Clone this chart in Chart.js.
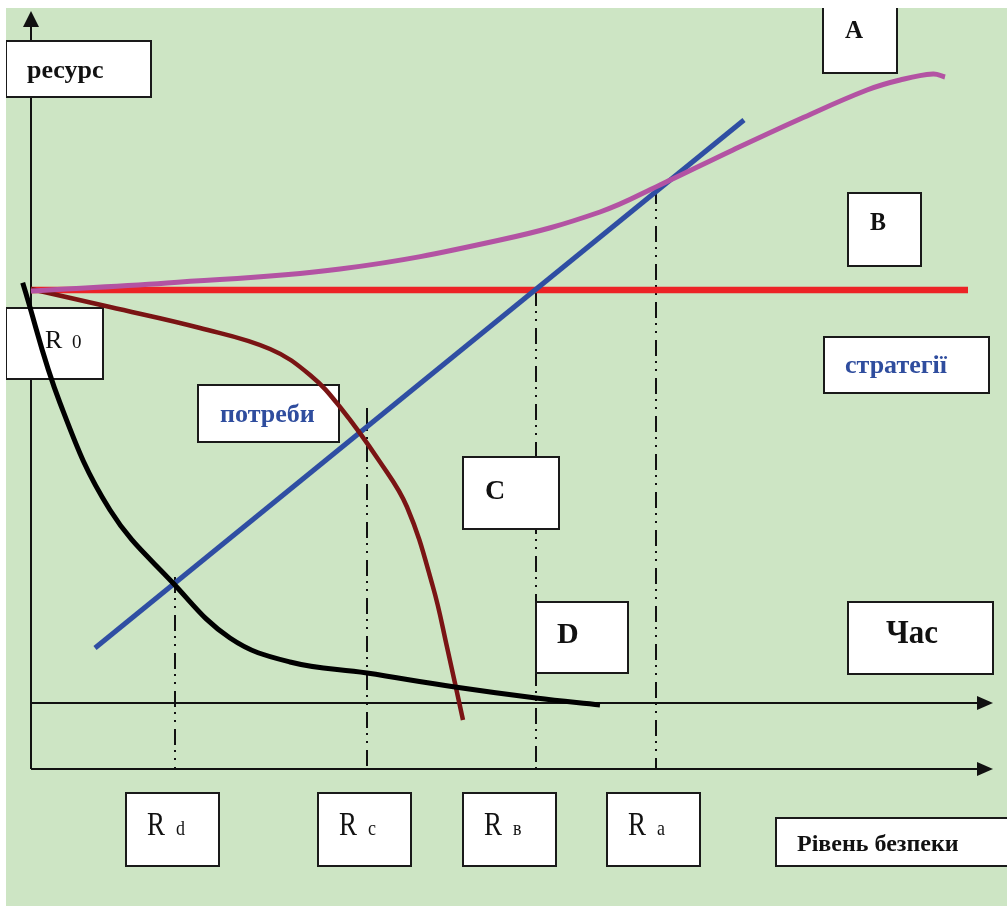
<!DOCTYPE html>
<html>
<head>
<meta charset="utf-8">
<script src="https://cdn.jsdelivr.net/npm/chart.js@4"></script>
<style>
  html, body { margin: 0; padding: 0; background: #ffffff; }
  canvas { display: block; }
</style>
</head>
<body>
<canvas id="chart" width="1007" height="906"></canvas>
<script>
// --- data (units: x = security level, y = resource; origin at the lower axis) ---
const blackX   = [-0.83, 2.9, 7.9, 14.2, 19.9, 25.9, 33.6, 42.4, 50.5, 56.9];
const blackY   = [48.63, 36.6, 25.9, 18.6, 13.1, 10.7, 9.6, 8.2, 7.1, 6.4];

const magentaX = [0, 13.6, 30.9, 46.9, 56.9, 62.9, 70.2, 76.9, 83.6, 86.9, 90.2, 91.4];
const magentaY = [47.8, 48.6, 50.0, 52.9, 55.7, 58.4, 61.9, 65.0, 67.9, 68.9, 69.5, 69.2];

const needsX   = [0, 7.9, 16.9, 23.9, 27.9, 30.9, 34.9, 37.6, 40.2, 41.6, 43.2];
const needsY   = [48.0, 46.2, 44.1, 42.0, 39.4, 36.2, 30.7, 26.2, 18.2, 12.2, 4.9];

const blueX    = [6.4, 71.3];
const blueY    = [12.1, 64.9];

const redX     = [0, 93.7];
const redY     = [47.9, 47.9];

// security levels where the dash-dot drop lines fall
const levelSubs = ['d', 'c', 'в', 'a'];
const levelX    = [14.4, 33.6, 50.5, 62.5];
const levelTop  = [19.2, 36.1, 47.9, 58.1];

const timeAxisY = 6.6;

function pts(xs, ys) {
  return xs.map((x, i) => ({ x: x, y: ys[i] }));
}

const SERIF = '"Liberation Serif", "DejaVu Serif", serif';
const BLUE_TXT = '#2f4d9e';

// boxes: [x1, y1, x2, y2] in pixels, then text pieces
const boxes = [
  { r: [6, 41, 151, 97],     t: [['ресурс', 27, 78, 'bold 26px', '#111', 1]] },
  { r: [6, 308, 103, 379],   t: [['R', 45, 348, '26px', '#111', 1], ['0', 72, 348, '19px', '#111', 1]] },
  { r: [198, 385, 339, 442], t: [['потреби', 220, 422, 'bold 26px', BLUE_TXT, 1]] },
  { r: [823, 0, 897, 73],    t: [['A', 845, 38, 'bold 25px', '#111', 1]] },
  { r: [848, 193, 921, 266], t: [['B', 870, 230, 'bold 24px', '#111', 1.05]] },
  { r: [824, 337, 989, 393], t: [['стратегії', 845, 373, 'bold 26px', BLUE_TXT, 1]] },
  { r: [848, 602, 993, 674], t: [['Час', 886, 643, 'bold 31px', '#111', 1.1]] },
  { r: [776, 818, 1020, 866], t: [['Рівень безпеки', 797, 851, 'bold 24px', '#111', 1]] }
];
const topBoxes = [
  { r: [463, 457, 559, 529], t: [['C', 485, 499, 'bold 28px', '#111', 1]] },
  { r: [536, 602, 628, 673], t: [['D', 557, 643, 'bold 30px', '#111', 1]] }
];
const levelBoxLeft = [126, 318, 463, 607];

function drawText(ctx, s, x, y, font, color, sy) {
  ctx.save();
  ctx.translate(x, y);
  ctx.scale(1, sy);
  ctx.font = font + ' ' + SERIF;
  ctx.fillStyle = color;
  ctx.textBaseline = 'alphabetic';
  ctx.fillText(s, 0, 0);
  ctx.restore();
}

function drawBox(ctx, b) {
  const [x1, y1, x2, y2] = b.r;
  ctx.save();
  ctx.beginPath();
  ctx.rect(6, 8, 1007, 906);
  ctx.clip();
  ctx.fillStyle = '#ffffff';
  ctx.fillRect(x1, y1, x2 - x1, y2 - y1);
  ctx.strokeStyle = '#1a1a1a';
  ctx.lineWidth = 2;
  ctx.strokeRect(x1, y1, x2 - x1, y2 - y1);
  ctx.restore();
  b.t.forEach(t => drawText(ctx, t[0], t[1], t[2], t[3], t[4], t[5]));
}

function arrow(ctx, tx, ty, dir) {
  ctx.beginPath();
  if (dir === 'up') {
    ctx.moveTo(tx, ty); ctx.lineTo(tx - 8, ty + 16); ctx.lineTo(tx + 8, ty + 16);
  } else {
    ctx.moveTo(tx, ty); ctx.lineTo(tx - 16, ty - 7); ctx.lineTo(tx - 16, ty + 7);
  }
  ctx.closePath();
  ctx.fill();
}

const diagramPlugin = {
  id: 'diagram',
  beforeDatasetsDraw(chart) {
    const ctx = chart.ctx;
    const xs = chart.scales.x, ys = chart.scales.y;
    ctx.save();
    // paper
    ctx.fillStyle = '#cde5c4';
    ctx.fillRect(6, 8, 1001, 898);

    const x0 = xs.getPixelForValue(0);
    const y0 = ys.getPixelForValue(0);
    const yt = ys.getPixelForValue(timeAxisY);
    const xEnd = 993;

    ctx.strokeStyle = '#111';
    ctx.fillStyle = '#111';
    ctx.lineWidth = 2;
    ctx.beginPath();
    ctx.moveTo(x0, y0); ctx.lineTo(x0, 26);
    ctx.moveTo(x0, y0); ctx.lineTo(xEnd - 15, y0);
    ctx.moveTo(x0, yt); ctx.lineTo(xEnd - 15, yt);
    ctx.stroke();
    arrow(ctx, x0, 11, 'up');
    arrow(ctx, xEnd, y0, 'right');
    arrow(ctx, xEnd, yt, 'right');

    boxes.forEach(b => drawBox(ctx, b));

    levelSubs.forEach((s, i) => {
      const bx = levelBoxLeft[i];
      drawBox(ctx, { r: [bx, 793, bx + 93, 866], t: [] });
      drawText(ctx, 'R', bx + 21, 835, '27px', '#111', 1.22);
      drawText(ctx, s, bx + 50, 835, '18px', '#111', 1.22);
    });
    ctx.restore();
  },
  afterDatasetsDraw(chart) {
    const ctx = chart.ctx;
    ctx.save();
    topBoxes.forEach(b => drawBox(ctx, b));
    ctx.restore();
  }
};

// dash-dot-dot drop lines
const dropLines = levelX.map((x, i) => ({
  data: [{ x: x, y: levelTop[i] }, { x: x, y: 0 }],
  borderColor: '#111',
  borderWidth: 2,
  borderDash: [16, 5, 2, 6, 2, 7],
  pointRadius: 0,
  showLine: true
}));

new Chart(document.getElementById('chart'), {
  type: 'scatter',
  data: {
    datasets: [
      { data: pts(blackX, blackY), borderColor: '#000000', borderWidth: 5,
        tension: 0.4, pointRadius: 0, showLine: true },
      { data: pts(magentaX, magentaY), borderColor: '#b353a3', borderWidth: 5,
        tension: 0.4, pointRadius: 0, showLine: true },
      { data: pts(needsX, needsY), borderColor: '#7a1414', borderWidth: 4.5,
        tension: 0.4, pointRadius: 0, showLine: true },
      { data: pts(blueX, blueY), borderColor: '#2f4ea3', borderWidth: 5,
        pointRadius: 0, showLine: true },
      { data: pts(redX, redY), borderColor: '#ec2326', borderWidth: 6.5,
        pointRadius: 0, showLine: true },
      ...dropLines
    ]
  },
  options: {
    responsive: false,
    animation: false,
    events: [],
    layout: { padding: 0 },
    plugins: { legend: { display: false }, tooltip: { enabled: false } },
    scales: {
      x: { type: 'linear', min: -3.1, max: 97.6, display: false },
      y: { type: 'linear', min: -13.7, max: 76.9, display: false }
    }
  },
  plugins: [diagramPlugin]
});
</script>
</body>
</html>
